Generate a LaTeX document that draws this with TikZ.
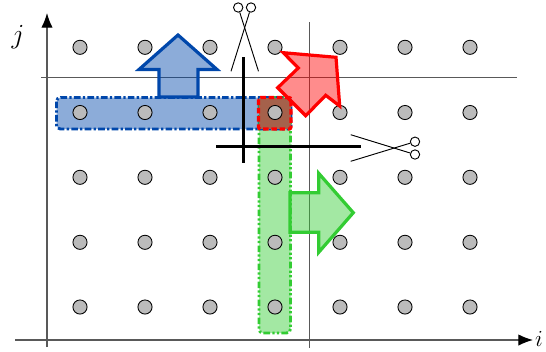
\documentclass[tikz,border=0pt]{standalone}
\usetikzlibrary{arrows.meta}
\definecolor{cblue}{HTML}{0047AB}
\definecolor{cgreen}{HTML}{33CC33}
\definecolor{cred}{HTML}{FF0000}
\definecolor{cdot}{HTML}{BBBBBB}
\definecolor{cover}{HTML}{A5614B}
\tikzset{
  pxl/.style={x=0.75pt,y=-0.75pt},
  axisline/.style={draw=black!65,line width=0.85pt,-{Latex[length=11pt,width=8.5pt,black]}},
  gridline/.style={draw=black!65,line width=0.75pt},
  griddot/.style={circle,draw=black,fill=cdot,line width=0.65pt,minimum size=10.6pt,inner sep=0pt},
  bluebar/.style={draw=cblue,fill=cblue,fill opacity=.45,draw opacity=1,line width=2.2pt,rounded corners=3pt,dash pattern=on 5pt off 1.7pt on 1.7pt off 1.7pt},
  greenbar/.style={draw=cgreen,fill=cgreen,fill opacity=.45,draw opacity=1,line width=2.2pt,rounded corners=3pt,dash pattern=on 5pt off 1.7pt on 1.7pt off 1.7pt on 1.7pt off 1.7pt},
  redbar/.style={draw=cred,line width=2.4pt,rounded corners=1.5pt,dash pattern=on 4.2pt off 2pt},
  overlapfill/.style={fill=cover},
  bigarrow/.style={line width=2.4pt,line join=miter,fill opacity=.45,draw opacity=1},
  cutline/.style={draw=black,line width=2.2pt},
  blade/.style={draw=black,line width=0.7pt},
  handle/.style={circle,draw=black,fill=white,line width=0.7pt,minimum size=7pt,inner sep=0pt},
}
\begin{document}
\begin{tikzpicture}[pxl]
\useasboundingbox (0,0) rectangle (546,351);
% axes
\coordinate (yS) at (47,347); \coordinate (yE) at (47,13);
\coordinate (xS) at (15,340); \coordinate (xE) at (533,340);
\draw[axisline] (yS) -- (yE);
\draw[axisline] (xS) -- (xE);
\coordinate (hS) at (41,77.7); \coordinate (hE) at (517,77.7);
\coordinate (vS) at (309,22); \coordinate (vE) at (309,348);
\draw[gridline] (hS) -- (hE);
\draw[gridline] (vS) -- (vE);
\node[inner sep=0pt] (labelj) at (18,37) {\fontsize{21}{21}\selectfont$j$};
\node[inner sep=0pt] (labeli) at (539,339) {\fontsize{19}{19}\selectfont$i$};
% bars
\draw[greenbar] (259,97.5) rectangle (290.5,333);
\draw[bluebar] (56.5,97.5) rectangle (291,129);
\fill[overlapfill] (258.5,97.5) rectangle (291,129);
\draw[redbar] (258.5,97.5) rectangle (291,129);
% dots
\foreach \c [count=\a] in {80,145,210,275,340,405,470}
  \foreach \r [count=\b] in {47.3,112.5,177.3,242.3,307}
    \node[griddot] (d\a\b) at (\c,\r) {};
% big arrows
\draw[bigarrow,draw=cblue,fill=cblue] (178,35) -- (217,69.5) -- (198,69.5) -- (198,97) -- (159,97) -- (159,69.5) -- (139,69.5) -- cycle;
\draw[bigarrow,draw=cred,fill=cred] (283.3,52.7) -- (336,57.3) -- (339.7,106) -- (325.7,95.3) -- (305.7,115.7) -- (277.7,87.7) -- (298.3,68) -- cycle;
\draw[bigarrow,draw=cgreen,fill=cgreen] (290,192.7) -- (318.7,192.7) -- (318.7,173.3) -- (353.3,212.7) -- (318.7,252.3) -- (318.7,232.3) -- (290,232.3) -- cycle;
% cut lines
\coordinate (c1a) at (243.7,57); \coordinate (c1b) at (243.7,163);
\coordinate (c2a) at (216,146.7); \coordinate (c2b) at (361,146.7);
\draw[cutline] (c1a) -- (c1b);
\draw[cutline] (c2a) -- (c2b);
% scissors
\node[handle] (s1l) at (238.2,7.5) {};
\node[handle] (s1r) at (251,7.5) {};
\coordinate (s1a) at (258.5,71.3); \coordinate (s1b) at (231,71.3);
\draw[blade] (s1l) -- (s1a);
\draw[blade] (s1r) -- (s1b);
\node[handle] (s2u) at (415,141.7) {};
\node[handle] (s2d) at (415,154.5) {};
\coordinate (s2a) at (350.7,134.7); \coordinate (s2b) at (350.7,161.3);
\draw[blade] (s2d) -- (s2a);
\draw[blade] (s2u) -- (s2b);
\end{tikzpicture}
\end{document}
